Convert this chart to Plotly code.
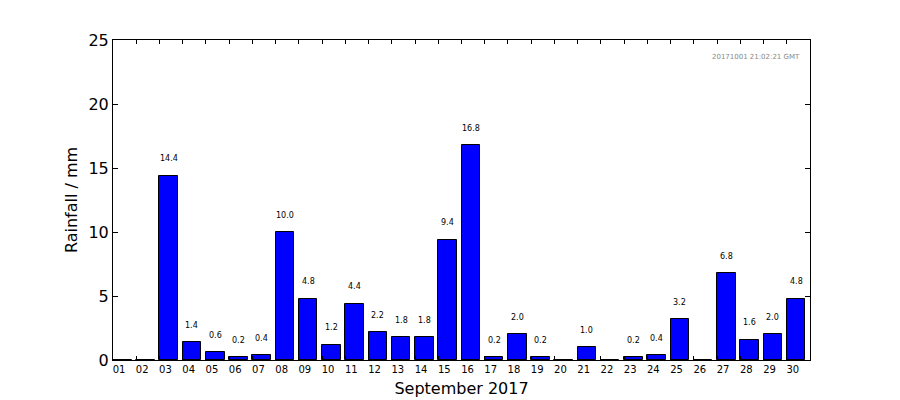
import plotly.graph_objects as go

days = list(range(1, 31))
day_labels = [f"{d:02d}" for d in days]
rain = [0, 0, 14.4, 1.4, 0.6, 0.2, 0.4, 10.0, 4.8, 1.2, 4.4, 2.2, 1.8, 1.8, 9.4,
        16.8, 0.2, 2.0, 0.2, 0, 1.0, 0, 0.2, 0.4, 3.2, 0, 6.8, 1.6, 2.0, 4.8]
y_ticks = [0, 5, 10, 15, 20, 25]
stamp = "20171001 21:02:21 GMT"

font = "DejaVu Sans, sans-serif"
centers = [d + 0.4 for d in days]

fig = go.Figure()
fig.add_trace(go.Bar(
    x=centers, y=rain, width=0.8,
    marker=dict(color="#0000ff", line=dict(color="black", width=1)),
    hoverinfo="skip",
))

for c, v in zip(centers, rain):
    if v > 0:
        fig.add_annotation(x=c, y=v + 0.8, text=f"{v:.1f}", showarrow=False,
                           yanchor="bottom", font=dict(family=font, size=8, color="black"))

fig.add_annotation(xref="paper", yref="paper", x=0.988, y=0.965, text=stamp,
                   showarrow=False, xanchor="right", yanchor="top",
                   font=dict(family=font, size=7, color="#888888"))

fig.update_layout(
    width=900, height=400,
    margin=dict(l=113, r=90, t=40, b=40),
    plot_bgcolor="white", paper_bgcolor="white",
    showlegend=False,
    font=dict(family=font, color="black"),
    bargap=0,
)
fig.update_xaxes(
    range=[1, 31], tickvals=days, ticktext=day_labels,
    ticks="inside", ticklen=4, tickcolor="black",
    showline=True, linecolor="black", linewidth=1, mirror="ticks",
    showgrid=False, zeroline=False, automargin=False,
    tickfont=dict(family=font, size=10),
    ticklabelshift=6,
    title=dict(text="September 2017", font=dict(family=font, size=16), standoff=8),
)
fig.update_yaxes(
    range=[0, 25], tickvals=y_ticks,
    ticks="inside", ticklen=5, tickcolor="black",
    showline=True, linecolor="black", linewidth=1, mirror="ticks",
    showgrid=False, zeroline=False, automargin=False,
    tickfont=dict(family=font, size=16),
    title=dict(text="Rainfall / mm", font=dict(family=font, size=16), standoff=6),
)

fig.write_html("out.html")
